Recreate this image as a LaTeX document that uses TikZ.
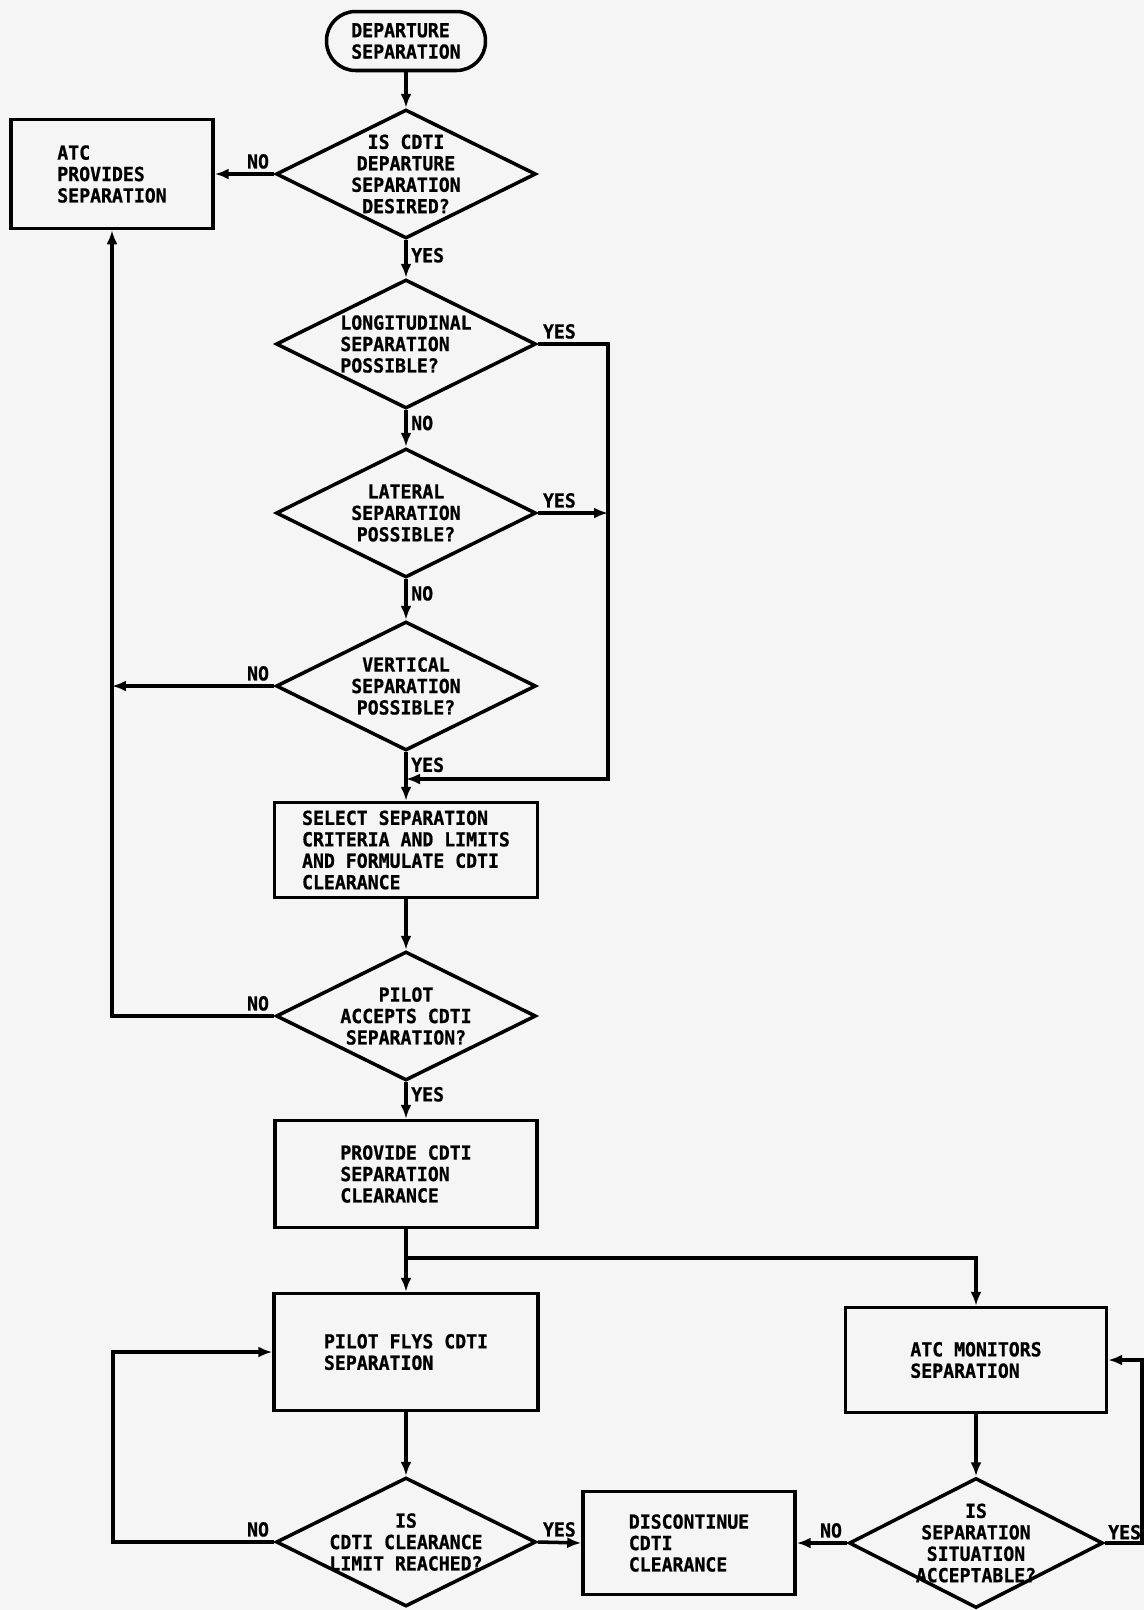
\documentclass[tikz,border=0pt]{standalone}
\usepackage{fontspec}
\setmainfont{DejaVu Sans Mono}[FakeStretch=0.94,BoldFeatures={FakeBold=0.8}]
\usetikzlibrary{arrows.meta,shapes.geometric}

\begin{document}
\begin{tikzpicture}[x=0.02cm,y=-0.02cm,line width=2pt,
    font=\bfseries\fontsize{11}{12.2}\selectfont,
    box/.style={draw,rectangle,align=left,inner sep=0pt},
    decision/.style={draw,diamond,inner sep=0pt,minimum width=5.2cm,minimum height=2.58cm},
    flow/.style={-{Latex[length=2.8mm,width=2.2mm]}},
    lbl/.style={inner sep=2pt}]
    \fill[black!4] (0,0) rectangle (1144,1610);
    \useasboundingbox (0,0) rectangle (1144,1610);
    \node[box,rounded corners=0.58cm,minimum width=3.18cm,minimum height=1.18cm] (start) at (406,41) {DEPARTURE\\SEPARATION};
    \node[decision,label={[align=center]center:IS CDTI\\DEPARTURE\\SEPARATION\\DESIRED?}] (desired) at (406,174) {};
    \node[box,minimum width=4.04cm,minimum height=2.18cm] (atcbox) at (112,174) {ATC\\PROVIDES\\SEPARATION};
    \node[decision,label={[align=left]center:LONGITUDINAL\\SEPARATION\\POSSIBLE?}] (longit) at (406,344) {};
    \node[decision,label={[align=center]center:LATERAL\\SEPARATION\\POSSIBLE?}] (lateral) at (406,513) {};
    \node[decision,label={[align=center]center:VERTICAL\\SEPARATION\\POSSIBLE?}] (vertical) at (406,686) {};
    \node[box,minimum width=5.26cm,minimum height=1.9cm] (select) at (406,850) {SELECT SEPARATION\\CRITERIA AND LIMITS\\AND FORMULATE CDTI\\CLEARANCE};
    \node[decision,label={[align=center]center:PILOT\\ACCEPTS CDTI\\SEPARATION?}] (accepts) at (406,1016) {};
    \node[box,minimum width=5.24cm,minimum height=2.14cm] (provide) at (406,1174) {PROVIDE CDTI\\SEPARATION\\CLEARANCE};
    \node[box,minimum width=5.28cm,minimum height=2.34cm] (flys) at (406,1352) {PILOT FLYS CDTI\\SEPARATION};
    \node[decision,label={[align=center]center:IS\\CDTI CLEARANCE\\LIMIT REACHED?}] (limit) at (406,1542) {};
    \node[box,minimum width=4.24cm,minimum height=2.06cm] (discont) at (689,1543) {DISCONTINUE\\CDTI\\CLEARANCE};
    \node[box,minimum width=5.22cm,minimum height=2.1cm] (monitor) at (976,1360) {ATC MONITORS\\SEPARATION};
    \node[decision,minimum width=5.08cm,minimum height=2.6cm,label={[align=center]center:IS\\SEPARATION\\SITUATION\\ACCEPTABLE?}] (accept) at (976,1543) {};
    \coordinate (bypass) at (608,779);
    \coordinate (merge) at (406,779);
    \coordinate (split) at (406,1258);
    \coordinate (loopl) at (113,1352);
    \coordinate (loopr) at (1142,1360);
    \draw[flow] (start) -- (desired);
    \draw[flow] (desired.west) node[lbl,anchor=south east] (no1) {NO} -- (atcbox.east);
    \draw[flow] (desired.south) -- node[lbl,anchor=west,pos=0.4] (yes1) {YES} (longit.north);
    \draw[flow] (longit.south) -- node[lbl,anchor=west,pos=0.35] (no2) {NO} (lateral.north);
    \draw[flow] (longit.east) node[lbl,anchor=south west] (yes2) {YES} -| (bypass) -- (merge);
    \draw[flow] (lateral.south) -- node[lbl,anchor=west,pos=0.35] (no3) {NO} (vertical.north);
    \draw[flow] (lateral.east) node[lbl,anchor=south west] (yes3) {YES} -- (lateral.east -| bypass);
    \draw[flow] (vertical.west) node[lbl,anchor=south east] (no4) {NO} -- (vertical.west -| atcbox.south);
    \draw[flow] (vertical.south) -- node[lbl,anchor=north west,pos=0] (yes4) {YES} (select.north);
    \draw[flow] (select) -- (accepts);
    \draw[flow] (accepts.west) node[lbl,anchor=south east] (no5) {NO} -| (atcbox.south);
    \draw[flow] (accepts.south) -- node[lbl,anchor=west,pos=0.33] (yes5) {YES} (provide.north);
    \draw (provide) -- (split);
    \draw[flow] (split) -- (flys);
    \draw[flow] (split) -| (monitor.north);
    \draw[flow] (flys) -- (limit);
    \draw[flow] (limit.west) node[lbl,anchor=south east] (no6) {NO} -| (loopl) -- (flys.west);
    \draw[flow] (limit.east) node[lbl,anchor=south west] (yes6) {YES} -- (discont.west);
    \draw[flow] (monitor) -- (accept);
    \draw[flow] (accept.west) node[lbl,anchor=south east] (no7) {NO} -- (discont.east);
    \draw[flow] (accept.east) node[lbl,anchor=south west,inner sep=1pt] (yes7) {YES} -| (loopr) -- (monitor.east);
\end{tikzpicture}
\end{document}
